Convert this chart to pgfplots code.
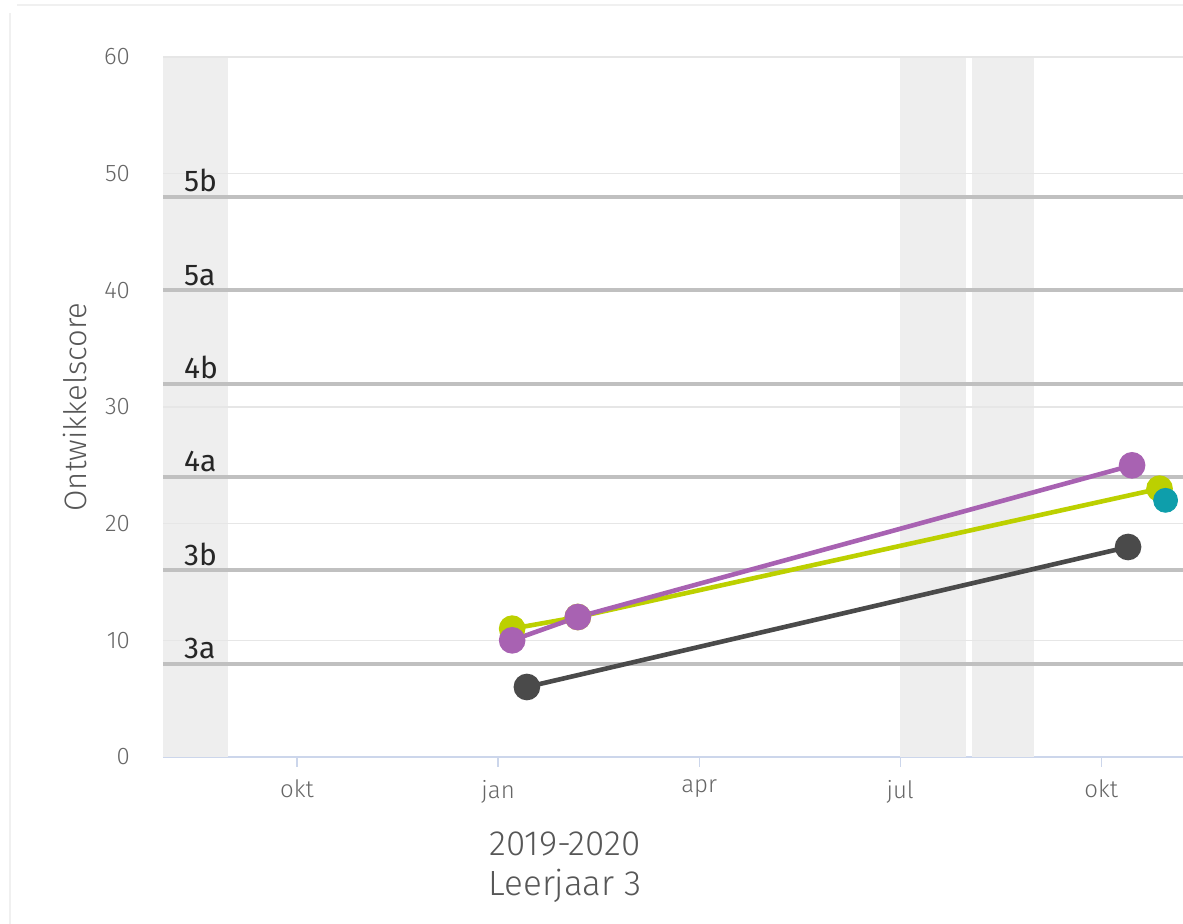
\documentclass[border=0pt]{standalone}
\usepackage{pgfplots}
\pgfplotsset{compat=1.18}
\usepackage{fontspec}
\setmainfont{Fira Sans}[UprightFont=* Light]
\newfontfamily\regfont{Fira Sans}
\definecolor{bandgray}{HTML}{EEEEEE}
\definecolor{gridcol}{HTML}{E6E6E6}
\definecolor{levelgray}{HTML}{C0C0C0}
\definecolor{axisblue}{HTML}{CCD6EB}
\definecolor{ticktext}{HTML}{666666}
\definecolor{darkser}{HTML}{4A4A4A}
\definecolor{limeser}{HTML}{BCD000}
\definecolor{purpser}{HTML}{A862B2}
\definecolor{tealser}{HTML}{0E9EAB}
\begin{document}
\begin{tikzpicture}
% 1 px of the reference = 0.5pt; axis box = 1020 x 700 px
\useasboundingbox (-81.5pt,-83.5pt) rectangle (510pt,378.5pt);
\draw[gridcol!60, line width=0.6pt] (-76.5pt,-83.5pt) -- (-76.5pt,372pt);
\draw[gridcol!60, line width=0.6pt] (-73pt,376pt) -- (510pt,376pt);
\begin{axis}[
  scale only axis,
  width=510pt, height=350pt,
  xmin=-2, xmax=13.22,
  ymin=0, ymax=60,
  clip=false,
  axis x line*=bottom,
  axis y line*=left,
  x axis line style={draw=axisblue, line width=1pt, -},
  y axis line style={draw=none},
  xtick={0,3,6,9,12},
  xticklabels={okt,jan,apr,jul,okt},
  ytick={0,10,20,30,40,50,60},
  tick align=outside,
  major tick length=5pt,
  xtick style={draw=axisblue, line width=0.6pt},
  ytick style={draw=none},
  /pgf/number format/assume math mode=true,
  ticklabel style={font=\fontsize{12}{14}\selectfont, text=ticktext},
  yticklabel style={xshift=-8pt},
  xticklabel style={yshift=-3pt},
]
% holiday bands
\addplot[fill=bandgray, draw=none] coordinates {(-2,60) (-1.03,60)} \closedcycle;
\addplot[fill=bandgray, draw=none] coordinates {(8.99,60) (9.98,60)} \closedcycle;
\addplot[fill=bandgray, draw=none] coordinates {(10.07,60) (11.0,60)} \closedcycle;
% grid
\addplot[gridcol, line width=0.6pt] coordinates {(-2,10) (13.22,10)};
\addplot[gridcol, line width=0.6pt] coordinates {(-2,20) (13.22,20)};
\addplot[gridcol, line width=0.6pt] coordinates {(-2,30) (13.22,30)};
\addplot[gridcol, line width=0.6pt] coordinates {(-2,40) (13.22,40)};
\addplot[gridcol, line width=0.6pt] coordinates {(-2,50) (13.22,50)};
\addplot[gridcol, line width=0.6pt] coordinates {(-2,60) (13.22,60)};
% level lines
\addplot[levelgray, line width=2pt] coordinates {(-2,8) (13.22,8)};
\addplot[levelgray, line width=2pt] coordinates {(-2,16) (13.22,16)};
\addplot[levelgray, line width=2pt] coordinates {(-2,24) (13.22,24)};
\addplot[levelgray, line width=2pt] coordinates {(-2,32) (13.22,32)};
\addplot[levelgray, line width=2pt] coordinates {(-2,40) (13.22,40)};
\addplot[levelgray, line width=2pt] coordinates {(-2,48) (13.22,48)};
\tikzset{lvl/.style={anchor=base west, inner sep=0pt, yshift=2.5pt, font=\regfont\fontsize{15}{17}\selectfont, text=black!85}}
\node[lvl] at (axis cs:-1.69,8) {3a};
\node[lvl] at (axis cs:-1.69,16) {3b};
\node[lvl] at (axis cs:-1.69,24) {4a};
\node[lvl] at (axis cs:-1.69,32) {4b};
\node[lvl] at (axis cs:-1.69,40) {5a};
\node[lvl] at (axis cs:-1.69,48) {5b};
% series
\addplot[darkser, line width=2.3pt, mark=*, mark size=5.5pt, mark options={draw=none, fill=darkser}]
  coordinates {(3.43,6) (12.40,18)};
\addplot[limeser, line width=2.3pt, mark=*, mark size=5.5pt, mark options={draw=none, fill=limeser}]
  coordinates {(3.21,11) (4.19,12) (12.87,23)};
\addplot[purpser, line width=2.3pt, mark=*, mark size=5.5pt, mark options={draw=none, fill=purpser}]
  coordinates {(3.21,10) (4.19,12) (12.46,25)};
\addplot[tealser, only marks, mark=*, mark size=6pt, mark options={draw=none, fill=tealser}]
  coordinates {(12.96,22)};
% labels
\node[anchor=north, align=center, font=\fontsize{17.5}{20}\selectfont, text=ticktext!85!black]
  at (axis cs:4.0,0) [yshift=-34pt] {2019-2020\\Leerjaar 3};
\node[xshift=-44pt, rotate=90, font=\fontsize{15.5}{17}\selectfont, text=ticktext!85!black]
  at (rel axis cs:0,0.5) {Ontwikkelscore};
\end{axis}
\end{tikzpicture}
\end{document}
